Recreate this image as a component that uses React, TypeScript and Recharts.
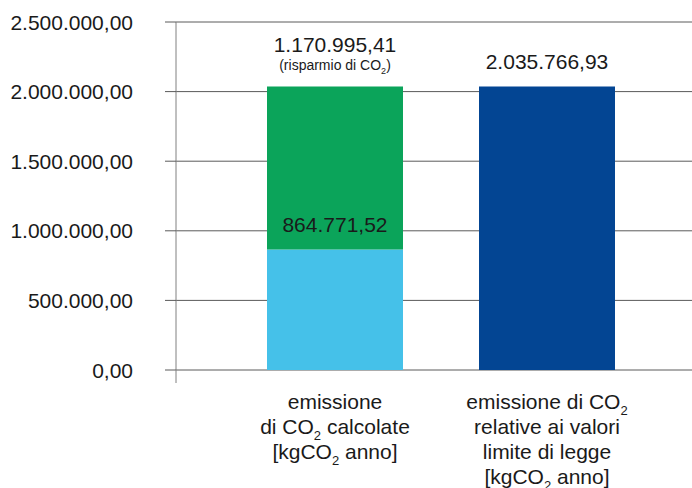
import { BarChart, Bar, XAxis, YAxis, CartesianGrid, LabelList } from "recharts";

const categories = ["calcolate", "limite"];
const calcolateValues = [864771.52, 0];
const risparmioValues = [1170995.41, 0];
const limiteValues = [0, 2035766.93];
const yTicks = [0, 500000, 1000000, 1500000, 2000000, 2500000];

// category captions, one entry per line ("₂" is drawn as a subscript)
const categoryLines = [
  ["emissione", "di CO₂ calcolate", "[kgCO₂ anno]"],
  ["emissione di CO₂", "relative ai valori", "limite di legge", "[kgCO₂ anno]"],
];
const risparmioNote = "(risparmio di CO₂)";

const FONT = '"Liberation Sans", Arial, sans-serif';
const TEXT = "#1a1a1a";
const GRID = "#5a5a5a";
const TICK_SIZE = 11;
const TICK_MARGIN = 32;

const data = categories.map((name, i) => ({
  name,
  calcolate: calcolateValues[i],
  risparmio: risparmioValues[i],
  limite: limiteValues[i],
}));

// Italian number format: 2.035.766,93
function fmt(v: number) {
  const [int, dec] = v.toFixed(2).split(".");
  return int.replace(/\B(?=(\d{3})+(?!\d))/g, ".") + "," + dec;
}

function withSub(str: string, size: number, sub: number, shift: number) {
  const parts = str.split("₂");
  const out: any[] = [];
  parts.forEach((p, i) => {
    if (i > 0) {
      out.push(
        <tspan key={"s" + i} fontSize={sub} dy={shift}>
          2
        </tspan>
      );
    }
    if (p) {
      out.push(
        <tspan key={"t" + i} fontSize={size} dy={i > 0 ? -shift : 0}>
          {p}
        </tspan>
      );
    }
  });
  return out;
}

function YTick(props: any) {
  const { x, y, payload } = props;
  const axisX = x + TICK_SIZE + TICK_MARGIN;
  return (
    <g>
      <text x={x} y={y} dy="0.36em" textAnchor="end" fontSize={21} fontFamily={FONT} fill={TEXT}>
        {fmt(payload.value)}
      </text>
      {payload.value === 0 && (
        <line x1={axisX} y1={y} x2={axisX} y2={y + 13} stroke="#808080" strokeWidth={1} />
      )}
    </g>
  );
}

function XTick(props: any) {
  const { x, y, index } = props;
  const lines = categoryLines[index] || [];
  return (
    <g>
      {lines.map((line, k) => (
        <text
          key={k}
          x={x}
          y={y + 39 + k * 25}
          textAnchor="middle"
          fontSize={21}
          fontFamily={FONT}
          fill={TEXT}
        >
          {withSub(line, 21, 13, 6)}
        </text>
      ))}
    </g>
  );
}

// value label above a bar segment, with an optional small note below it
function makeLabel(offset: number, note?: string) {
  return (props: any) => {
    const { x, y, width, value } = props;
    const v = Array.isArray(value) ? value[1] - value[0] : Number(value);
    if (!v) return null;
    const cx = x + width / 2;
    return (
      <g>
        <text x={cx} y={y - offset} textAnchor="middle" fontSize={21} fontFamily={FONT} fill={TEXT}>
          {fmt(v)}
        </text>
        {note && (
          <text
            x={cx}
            y={y - offset + 18}
            textAnchor="middle"
            fontSize={14}
            fontFamily={FONT}
            fill={TEXT}
          >
            {withSub(note, 14, 9, 4)}
          </text>
        )}
      </g>
    );
  };
}

export default function App() {
  return (
    <div style={{ position: "absolute", left: 0, top: 0, background: "#fff", fontFamily: FONT }}>
      <BarChart
        width={692}
        height={488}
        data={data}
        margin={{ top: 22, right: 0, bottom: 0, left: 0 }}
        barSize={136}
      >
        <CartesianGrid vertical={false} stroke={GRID} strokeWidth={1} />
        <XAxis
          dataKey="name"
          height={118}
          axisLine={false}
          tickLine={false}
          tickSize={0}
          tickMargin={0}
          padding={{ left: 53, right: 39 }}
          tick={<XTick />}
          interval={0}
        />
        <YAxis
          width={176}
          domain={[0, 2500000]}
          ticks={yTicks}
          interval={0}
          tickSize={TICK_SIZE}
          tickMargin={TICK_MARGIN}
          tickLine={{ stroke: GRID }}
          axisLine={{ stroke: "#808080" }}
          tick={<YTick />}
        />
        <Bar dataKey="calcolate" stackId="a" fill="#45c1e9" isAnimationActive={false}>
          <LabelList dataKey="calcolate" content={makeLabel(18)} />
        </Bar>
        <Bar dataKey="risparmio" stackId="a" fill="#0ba45a" isAnimationActive={false}>
          <LabelList dataKey="risparmio" content={makeLabel(35, risparmioNote)} />
        </Bar>
        <Bar dataKey="limite" stackId="a" fill="#034593" isAnimationActive={false}>
          <LabelList dataKey="limite" content={makeLabel(18)} />
        </Bar>
      </BarChart>
    </div>
  );
}
